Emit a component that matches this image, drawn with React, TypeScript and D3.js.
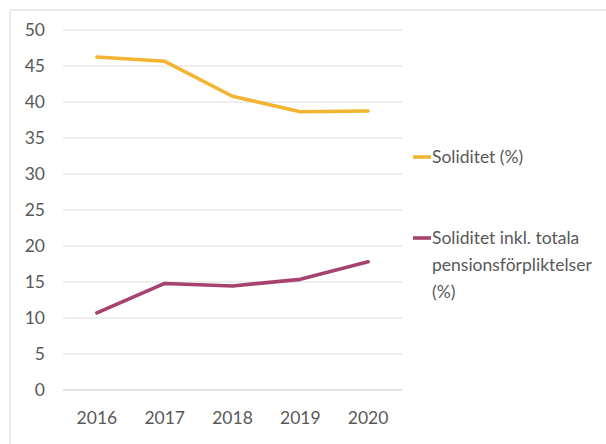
import React from "react";
import * as d3 from "d3";

const years = ["2016", "2017", "2018", "2019", "2020"];
const soliditet = [46.25, 45.65, 40.8, 38.65, 38.75];
const soliditetInkl = [10.7, 14.8, 14.45, 15.37, 17.8];
const yTicks = [0, 5, 10, 15, 20, 25, 30, 35, 40, 45, 50];
const legendItems = [
  { lines: ["Soliditet (%)"], color: "#F2B431" },
  { lines: ["Soliditet inkl. totala", "pensionsförpliktelser", "(%)"], color: "#A6426F" },
];

const W = 606, H = 444;
const font = "Lato, 'Open Sans', sans-serif";
const textColor = "#595959";

export default function App() {
  const x = d3.scaleBand().domain(years).range([63, 402]);
  const y = d3.scaleLinear().domain([0, 50]).range([390, 30]);
  const line = d3
    .line<number>()
    .x((_, i) => (x(years[i]) as number) + x.bandwidth() / 2)
    .y((d) => y(d));
  const series = [soliditet, soliditetInkl];
  const legendY = [157, 238];
  return (
    <svg width={W} height={H} style={{ position: "absolute", left: 0, top: 0, background: "#fff" }} fontFamily={font}>
      <rect x={0} y={0} width={W} height={H} fill="#fff" />
      <line x1={10} y1={10} x2={606} y2={10} stroke="#ebebeb" strokeWidth={2} />
      <line x1={10} y1={10} x2={10} y2={444} stroke="#ebebeb" strokeWidth={2} />
      {yTicks.map((t) => (
        <g key={t}>
          <line x1={63} x2={402} y1={y(t)} y2={y(t)} stroke={t === 0 ? "#d9d9d9" : "#e8e8e8"} strokeWidth={1.3} />
          <text x={45} y={y(t)} dy="0.35em" textAnchor="end" fontSize={17.5} fill={textColor}>{t}</text>
        </g>
      ))}
      {years.map((yr) => (
        <text key={yr} x={(x(yr) as number) + x.bandwidth() / 2} y={418} dy="0.35em" textAnchor="middle" fontSize={17.5} fill={textColor}>{yr}</text>
      ))}
      {series.map((s, i) => (
        <path key={i} d={line(s) as string} fill="none" stroke={legendItems[i].color} strokeWidth={3.6} strokeLinecap="round" strokeLinejoin="round" />
      ))}
      {legendItems.map((it, i) => (
        <g key={i}>
          <line x1={413} x2={431} y1={legendY[i]} y2={legendY[i]} stroke={it.color} strokeWidth={3.6} />
          {it.lines.map((l, j) => (
            <text key={j} x={432} y={legendY[i] + j * 27} dy="0.35em" fontSize={17.5} fill={textColor}>{l}</text>
          ))}
        </g>
      ))}
    </svg>
  );
}
